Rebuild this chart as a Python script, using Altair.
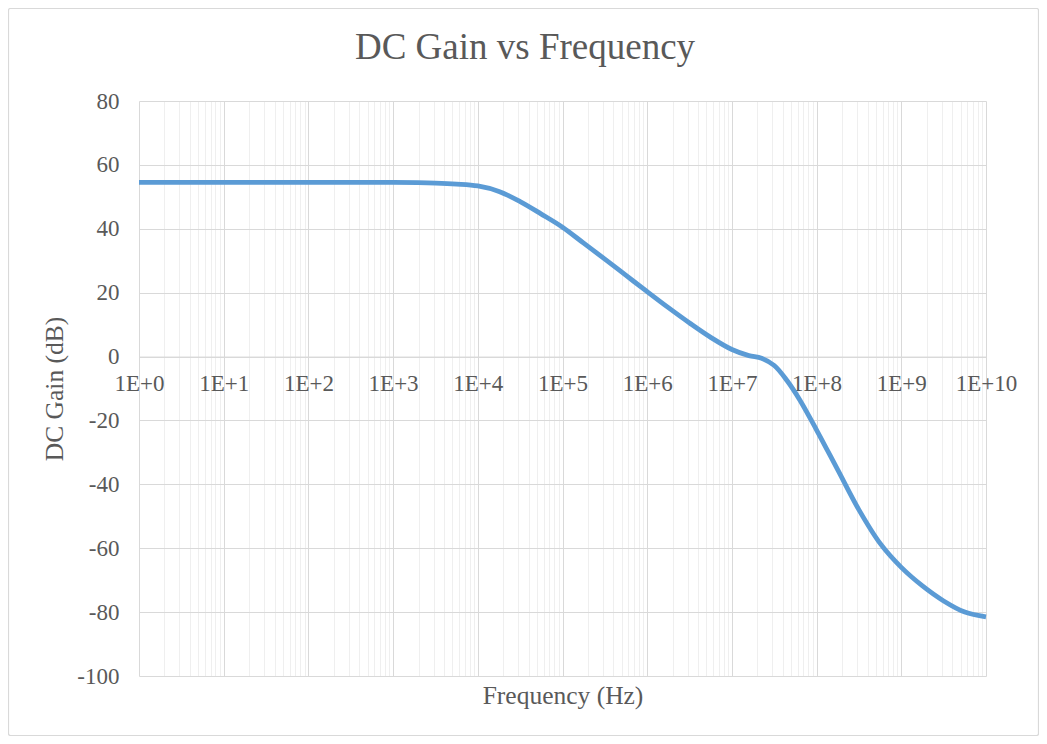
import altair as alt
import pandas as pd

# ---- data ----
log10_freq = [0, 1, 2, 3, 3.5, 3.75, 4.0, 4.25, 4.5, 4.75, 5.0, 5.25, 5.5, 5.75,
              6.0, 6.25, 6.5, 6.75, 7.0, 7.2, 7.35, 7.5, 7.65, 7.8, 8.0, 8.25,
              8.5, 8.75, 9.0, 9.25, 9.5, 9.75, 10.0]
gain_db = [54.5, 54.5, 54.5, 54.5, 54.3, 54.0, 53.4, 51.7, 48.5, 44.6, 40.5, 35.5,
           30.5, 25.4, 20.3, 15.3, 10.5, 6.0, 2.2, 0.3, -0.5, -2.8, -7.5, -13.5,
           -23.0, -35.5, -48.0, -58.5, -66.0, -71.8, -76.5, -80.0, -81.5]

decades = list(range(10))
multipliers = [1, 2, 3, 4, 5, 6, 7, 8, 9]
y_ticks = [-100, -80, -60, -40, -20, 0, 20, 40, 60, 80]

title_text = "DC Gain vs Frequency"
x_title = "Frequency (Hz)"
y_title = "DC Gain (dB)"

x_tick_values = [m * 10 ** d for d in decades for m in multipliers] + [10 ** 10]

df = pd.DataFrame({"freq": [10 ** e for e in log10_freq], "gain": gain_db})
one = pd.DataFrame({"a": [0]})

W, H = 847, 575
PAD_L, PAD_T, PAD_R, PAD_B = 131, 93, 53, 60
TEXT = "#595959"
FONT = "Liberation Serif"

is_major = "abs(log(datum.value)/LN10 - round(log(datum.value)/LN10)) < 1e-6"

x_enc = alt.X(
    "freq:Q",
    scale=alt.Scale(type="log", domain=[1, 1e10], nice=False),
    axis=alt.Axis(
        values=x_tick_values,
        labelExpr=f"{is_major} ? '1E+' + round(log(datum.value)/LN10) : ''",
        labelOverlap=False,
        labelFlush=False,
        labelBound=False,
        labelFont=FONT,
        labelFontSize=23,
        labelColor=TEXT,
        labelPadding=16,
        ticks=False,
        tickSize=0,
        domain=True,
        domainColor="#d9d9d9",
        grid=True,
        gridColor={"condition": {"test": is_major, "value": "#d9d9d9"}, "value": "#efefef"},
        gridWidth=1,
        offset=-(H * 100 / 180),
        title=x_title,
        titleFont=FONT,
        titleFontSize=25.5,
        titleFontWeight="normal",
        titleColor=TEXT,
        titleBaseline="alphabetic",
        titleX=W / 2,
        titleY=346.7,
    ),
)

y_enc = alt.Y(
    "gain:Q",
    scale=alt.Scale(domain=[-100, 80], nice=False, zero=False),
    axis=alt.Axis(
        values=y_ticks,
        labelExpr="'' + datum.value",
        labelFont=FONT,
        labelFontSize=23,
        labelColor=TEXT,
        labelPadding=20,
        ticks=False,
        tickSize=0,
        domain=False,
        grid=True,
        gridColor="#d9d9d9",
        gridWidth=1,
        title=y_title,
        titleFont=FONT,
        titleFontSize=25.5,
        titleFontWeight="normal",
        titleColor=TEXT,
        titleAngle=270,
        titleBaseline="alphabetic",
        titleX=-77,
        titleY=H / 2,
    ),
)

line = alt.Chart(df).mark_line(
    color="#5b9bd5", strokeWidth=4.8, interpolate="catmull-rom"
).encode(x=x_enc, y=y_enc)

border = alt.Chart(one).mark_rect(
    fillOpacity=0, stroke="#d9d9d9", strokeWidth=1.2, cornerRadius=2
).encode(
    x=alt.value(-PAD_L + 0.5),
    x2=alt.value(W + PAD_R - 0.5),
    y=alt.value(-PAD_T + 0.5),
    y2=alt.value(H + PAD_B - 0.5),
)

title = alt.Chart(one).mark_text(
    text=title_text, font=FONT, fontSize=37, color=TEXT,
    align="center", baseline="alphabetic"
).encode(x=alt.value(386), y=alt.value(-42))

chart = alt.layer(border, line, title).properties(
    width=W,
    height=H,
    padding={"left": PAD_L, "top": PAD_T, "right": PAD_R, "bottom": PAD_B},
    autosize=alt.AutoSizeParams(type="none"),
    background="white",
).configure_view(strokeWidth=0)

chart.save("out.html", embed_options={"renderer": "svg", "actions": False})
